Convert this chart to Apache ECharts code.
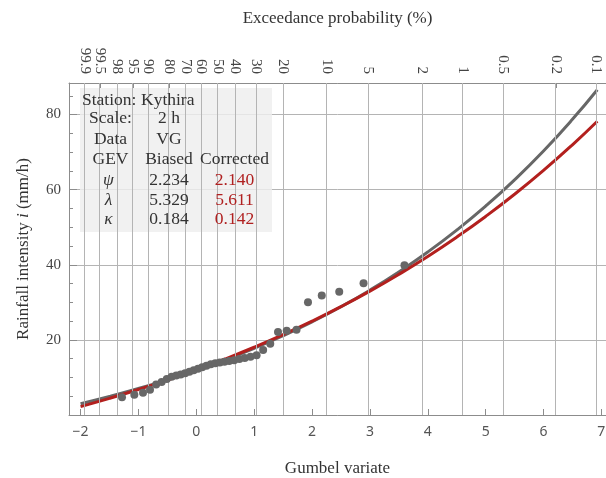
<!DOCTYPE html>
<html>
<head>
<meta charset="utf-8">
<script src="https://cdn.jsdelivr.net/npm/echarts@6/dist/echarts.min.js"></script>
<style>html,body{margin:0;padding:0;background:#fff}#c{width:606px;height:478px}</style>
</head>
<body>
<div id="c"></div>
<script>
// Observed data: Gumbel variate (plotting position) and rainfall intensity (mm/h)
const gumbelX = [-1.284,-1.071,-0.921,-0.800,-0.694,-0.599,-0.510,-0.426,-0.346,-0.269,-0.193,-0.119,-0.045,0.029,0.102,0.176,0.251,0.328,0.406,0.486,0.568,0.654,0.744,0.837,0.937,1.042,1.155,1.278,1.412,1.562,1.732,1.930,2.168,2.470,2.890,3.597];
const intensity = [4.7,5.4,5.95,6.7,8.1,8.8,9.6,10.2,10.5,10.8,11.1,11.5,11.9,12.3,12.7,13.1,13.5,13.8,14.0,14.2,14.4,14.6,14.9,15.2,15.5,15.9,17.3,19.0,22.1,22.4,22.7,30.0,31.8,32.8,35.1,39.9];
// Fitted curves read along the Gumbel variate
const curveX = [-2,-1.5,-1,-0.5,0,0.5,1,1.5,2,2.5,3,3.5,4,4.5,5,5.5,6,6.5,6.93];
const biasedCurve = [2.99,4.92,7.04,9.36,11.90,14.70,17.76,21.11,24.79,28.82,33.24,38.09,43.40,49.23,55.62,62.62,70.30,78.72,86.60];
const correctedCurve = [2.24,4.43,6.78,9.30,12.01,14.92,18.04,21.39,24.99,28.85,32.99,37.45,42.22,47.36,52.87,58.78,65.13,71.94,78.21];
// Axis ticks
const bottomTicks = [-2,-1,0,1,2,3,4,5,6,7];
const probLabels = ['99.9','99.5','98','95','90','80','70','60','50','40','30','20','10','5','2','1','0.5','0.2','0.1'];
// Table
const tableRows = [
  ['Station:', 'Kythira', ''],
  ['Scale:', '2 h', ''],
  ['Data', 'VG', ''],
  ['GEV', 'Biased', 'Corrected'],
  ['ψ', '2.234', '2.140'],
  ['λ', '5.329', '5.611'],
  ['κ', '0.184', '0.142']
];

// exceedance probability scale -> Gumbel variate
const probPos = probLabels.map(s => -Math.log(-Math.log(1 - parseFloat(s) / 100)));

const serif = '"Liberation Serif", "Times New Roman", serif';
const gridColor = '#b4b4b4';
const frameColor = '#8c8c8c';

const chart = echarts.init(document.getElementById('c'), null, {renderer: 'canvas'});

const rowY = [100, 118.5, 139, 159, 180.5, 200, 219.5];
const tfont = '17.5px ' + serif;
const graphics = [{
  type: 'rect', shape: {x: 80, y: 88, width: 192, height: 144},
  style: {fill: 'rgba(238,238,238,0.82)'}, z: 5, silent: true
}];
tableRows.forEach((r, i) => {
  const greek = i >= 4;
  if (i === 0) {
    graphics.push({type: 'text', x: 82, y: rowY[i], z: 6, style: {text: r[0], font: tfont, fill: '#333', textAlign: 'left', textVerticalAlign: 'middle'}});
    graphics.push({type: 'text', x: 141, y: rowY[i], z: 6, style: {text: r[1], font: tfont, fill: '#333', textAlign: 'left', textVerticalAlign: 'middle'}});
    return;
  }
  graphics.push({type: 'text', x: greek ? 108.5 : 110.5, y: rowY[i], z: 6, style: {text: r[0], font: (greek ? 'italic ' : '') + tfont, fill: '#333', textAlign: 'center', textVerticalAlign: 'middle'}});
  graphics.push({type: 'text', x: 169, y: rowY[i], z: 6, style: {text: r[1], font: tfont, fill: '#333', textAlign: 'center', textVerticalAlign: 'middle'}});
  if (r[2]) graphics.push({type: 'text', x: 234.5, y: rowY[i], z: 6, style: {text: r[2], font: tfont, fill: greek ? '#b02020' : '#333', textAlign: 'center', textVerticalAlign: 'middle'}});
});

const option = {
  animation: false,
  backgroundColor: '#fff',
  grid: {left: 69, right: 0, top: 83, bottom: 63, containLabel: false, outerBoundsMode: 'none'},
  xAxis: [{
    type: 'value', position: 'bottom', min: -2.2, max: 7.08,
    name: 'Gumbel variate', nameLocation: 'middle', nameGap: 45,
    nameTextStyle: {fontFamily: serif, fontSize: 17, color: '#333'},
    axisLine: {show: true, onZero: false, lineStyle: {color: frameColor, width: 1}},
    axisTick: {show: true, inside: true, length: 6, customValues: bottomTicks, lineStyle: {color: frameColor}},
    axisLabel: {customValues: bottomTicks, fontFamily: '"Noto Sans", sans-serif', fontSize: 14, color: '#555', margin: 10,
      formatter: v => (v < 0 ? '\u2212' + Math.abs(v) : String(v))},
    splitLine: {show: false}
  }, {
    type: 'value', position: 'top', min: -2.2, max: 7.08,
    name: 'Exceedance probability (%)', nameLocation: 'middle', nameGap: 56,
    nameTextStyle: {fontFamily: serif, fontSize: 17, color: '#333'},
    axisLine: {show: true, onZero: false, lineStyle: {color: frameColor, width: 1}},
    axisTick: {show: true, inside: true, length: 5, customValues: probPos, lineStyle: {color: frameColor}},
    axisLabel: {customValues: probPos, rotate: 90, fontFamily: serif, fontSize: 15, color: '#444', margin: 9,
      formatter: v => { let best = 0; probPos.forEach((p, i) => { if (Math.abs(p - v) < Math.abs(probPos[best] - v)) best = i; }); return probLabels[best]; }},
    splitLine: {show: false}
  }],
  yAxis: [{
    type: 'value', min: 0, max: 88.4, interval: 20,
    name: '{a|Rainfall intensity }{i|i}{a| (mm/h)}', nameLocation: 'middle', nameGap: 37,
    nameTextStyle: {rich: {a: {fontFamily: serif, fontSize: 17, color: '#333'}, i: {fontFamily: serif, fontSize: 17, fontStyle: 'italic', color: '#333'}}},
    axisLine: {show: true, onZero: false, lineStyle: {color: frameColor, width: 1}},
    axisTick: {show: true, inside: true, length: 8, lineStyle: {color: frameColor}},
    minorTick: {show: true, splitNumber: 4, length: 4, lineStyle: {color: frameColor}},
    axisLabel: {fontFamily: serif, fontSize: 15, color: '#444', margin: 8, showMaxLabel: false,
      formatter: v => (v === 0 || v % 20 !== 0 ? '' : String(v))},
    splitLine: {show: true, lineStyle: {color: gridColor, width: 1}}
  }],
  graphic: graphics,
  series: [{
    type: 'line', data: [], z: 1, silent: true,
    markLine: {silent: true, symbol: ['none', 'none'], label: {show: false},
      lineStyle: {color: gridColor, width: 1, type: 'solid'},
      emphasis: {disabled: true},
      data: probPos.map(p => ({xAxis: p}))}
  }, {
    type: 'line', z: 3, smooth: true, symbol: 'none',
    data: curveX.map((x, i) => [x, biasedCurve[i]]),
    lineStyle: {color: '#676767', width: 3}
  }, {
    type: 'line', z: 4, smooth: true, symbol: 'none',
    data: curveX.map((x, i) => [x, correctedCurve[i]]),
    lineStyle: {color: '#b3201e', width: 3}
  }, {
    type: 'scatter', z: 5, symbolSize: 8,
    data: gumbelX.map((x, i) => [x, intensity[i]]),
    itemStyle: {color: '#676767', opacity: 1}
  }]
};
chart.setOption(option);
</script>
</body>
</html>
